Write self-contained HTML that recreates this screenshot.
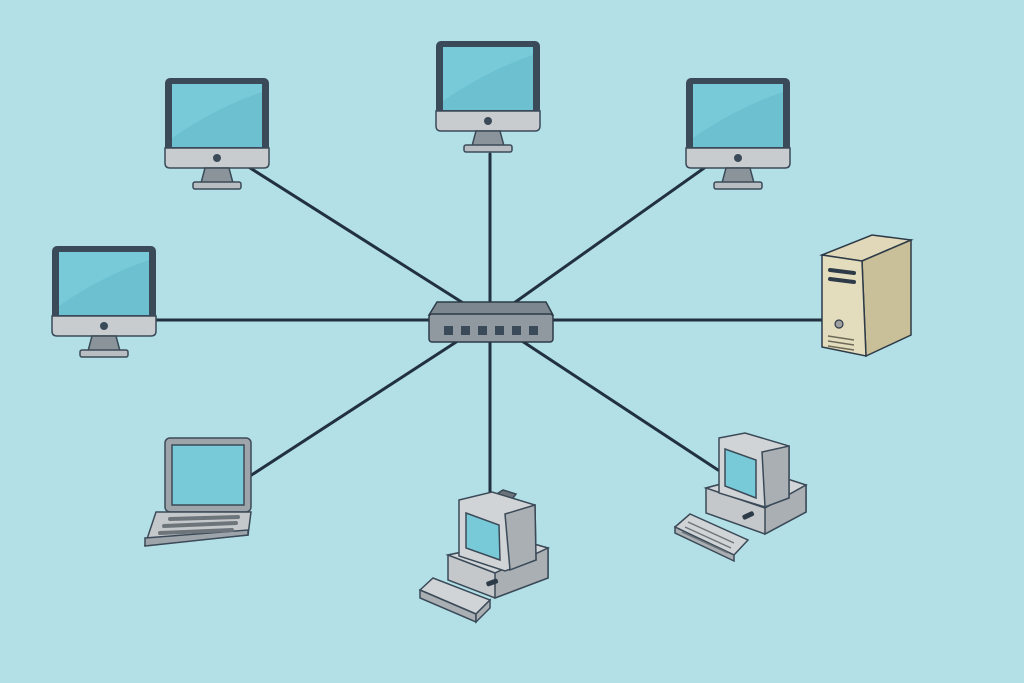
<!DOCTYPE html>
<html><head><meta charset="utf-8"><style>
html,body{margin:0;padding:0;background:#b3e0e7;}
svg{display:block;}
</style></head><body>
<svg width="1024" height="683" viewBox="0 0 1024 683" xmlns="http://www.w3.org/2000/svg">
<defs>
<g id="mon">
  <rect x="0" y="0" width="104" height="90" rx="5" fill="#3b4a58"/>
  <rect x="7" y="6" width="90" height="63" fill="#78cad8"/>
  <path d="M7 60 Q50 30 97 14 L97 69 L7 69Z" fill="#6cc0cf"/>
  <path d="M0 70 H104 V85 Q104 90 99 90 H5 Q0 90 0 85Z" fill="#c9cccf" stroke="#3b4a58" stroke-width="1.5"/>
  <circle cx="52" cy="80" r="4" fill="#3b4a58"/>
  <polygon points="40,90 64,90 68,105 36,105" fill="#8b949a" stroke="#3b4a58" stroke-width="1.5"/>
  <rect x="28" y="104" width="48" height="7" rx="2" fill="#b9bec2" stroke="#3b4a58" stroke-width="1.5"/>
</g>
</defs>
<rect width="1024" height="683" fill="#b3e0e7"/>
<g stroke="#22313f" stroke-width="3" stroke-linecap="round">
  <line x1="490" y1="320" x2="247" y2="166"/>
  <line x1="490" y1="320" x2="490" y2="154"/>
  <line x1="490" y1="320" x2="707" y2="166"/>
  <line x1="490" y1="320" x2="156" y2="320"/>
  <line x1="490" y1="320" x2="822" y2="320"/>
  <line x1="490" y1="320" x2="250" y2="476"/>
  <line x1="490" y1="320" x2="490" y2="492"/>
  <line x1="490" y1="320" x2="718" y2="470"/>
</g>
<use href="#mon" x="165" y="78"/>
<use href="#mon" x="436" y="41"/>
<use href="#mon" x="686" y="78"/>
<use href="#mon" x="52" y="246"/>
<!-- switch -->
<polygon points="437,302 546,302 553,315 429,315" fill="#7d878f" stroke="#2d3b48" stroke-width="1.5"/>
<rect x="429" y="314" width="124" height="28" rx="3" fill="#8f999f" stroke="#2d3b48" stroke-width="1.5"/>
<g fill="#3b4a58">
  <rect x="444" y="326" width="9" height="9"/><rect x="461" y="326" width="9" height="9"/>
  <rect x="478" y="326" width="9" height="9"/><rect x="495" y="326" width="9" height="9"/>
  <rect x="512" y="326" width="9" height="9"/><rect x="529" y="326" width="9" height="9"/>
</g>
<!-- server -->
<g stroke="#2d3b48" stroke-width="1.5">
  <polygon points="822,255 872,235 911,240 862,261" fill="#e0d8b8"/>
  <polygon points="862,261 911,240 911,335 866,356" fill="#c9bf98"/>
  <polygon points="822,255 862,261 866,356 822,347" fill="#e3dcbd"/>
</g>
<g stroke="#2d3b48" stroke-width="4" stroke-linecap="round">
  <line x1="830" y1="270" x2="854" y2="273"/><line x1="830" y1="279" x2="854" y2="282"/>
</g>
<circle cx="839" cy="324" r="4" fill="#a0a0a0" stroke="#2d3b48" stroke-width="1.2"/>
<g stroke="#6e6a5a" stroke-width="1.5"><line x1="828" y1="336" x2="854" y2="340"/><line x1="828" y1="341" x2="854" y2="345"/><line x1="828" y1="346" x2="854" y2="350"/></g>
<!-- laptop -->
<g stroke="#3b4a58" stroke-width="1.5">
  <rect x="165" y="438" width="86" height="74" rx="5" fill="#9ea5aa"/>
  <rect x="172" y="445" width="72" height="60" fill="#78cad8"/>
  <polygon points="165,512 251,512 248,535 145,545 156,512" fill="#c4c8cb"/>
  <polygon points="145,538 248,530 248,535 145,546" fill="#9ea5aa"/>
</g>
<g stroke="#6d757b" stroke-width="4" stroke-linecap="round">
  <line x1="170" y1="519" x2="238" y2="517"/><line x1="164" y1="526" x2="236" y2="523"/><line x1="160" y1="533" x2="232" y2="530"/>
</g>
<!-- bottom computer -->
<g stroke="#3b4a58" stroke-width="1.5">
  <polygon points="492,497 503,490 516,494 510,502" fill="#6b747a"/>
  <polygon points="448,555 520,540 548,548 548,578 495,598 448,580" fill="#c4c8cb"/>
  <polygon points="448,555 495,573 548,548 520,540" fill="#d3d6d8"/>
  <polygon points="495,573 548,548 548,578 495,598" fill="#a9afb3"/>
  <polygon points="459,500 492,492 535,505 536,560 505,571 459,556" fill="#d1d4d6"/>
  <polygon points="505,514 535,505 536,560 510,570" fill="#a9afb3"/>
  <polygon points="466,513 499,525 500,560 466,548" fill="#78cad8"/>
  <polygon points="420,590 433,578 490,600 476,614" fill="#d1d4d6"/>
  <polygon points="420,590 476,614 476,622 420,598" fill="#a9afb3"/>
  <polygon points="476,614 490,600 490,608 476,622" fill="#a9afb3"/>
</g>
<rect x="486" y="580" width="12" height="5" rx="2" fill="#2d3b48" transform="rotate(-20 492 582)"/>
<!-- right computer -->
<g stroke="#3b4a58" stroke-width="1.5">
  <polygon points="706,488 766,472 806,485 806,512 765,534 706,513" fill="#c4c8cb"/>
  <polygon points="706,488 765,508 806,485 766,472" fill="#d3d6d8"/>
  <polygon points="765,508 806,485 806,512 765,534" fill="#a9afb3"/>
  <polygon points="719,438 745,433 789,446 789,498 765,507 719,493" fill="#d1d4d6"/>
  <polygon points="762,452 789,446 789,498 765,507" fill="#a9afb3"/>
  <polygon points="725,449 756,460 756,498 725,486" fill="#78cad8"/>
  <polygon points="675,527 690,514 748,540 734,555" fill="#d1d4d6"/>
  <polygon points="675,527 734,555 734,561 675,533" fill="#a9afb3"/>
</g>
<g stroke="#6d757b" stroke-width="1.5"><line x1="688" y1="522" x2="734" y2="543"/><line x1="685" y1="527" x2="731" y2="548"/><line x1="682" y1="532" x2="728" y2="553"/></g>
<rect x="742" y="513" width="12" height="5" rx="2" fill="#2d3b48" transform="rotate(-25 748 515)"/>
</svg>
</body></html>
